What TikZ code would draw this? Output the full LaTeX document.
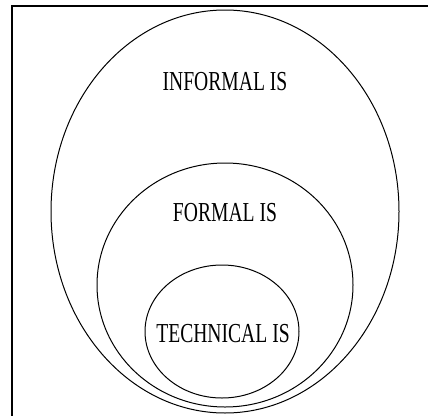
\documentclass[tikz,border=0pt]{standalone}
\usepackage{fontspec}
\setmainfont{Liberation Serif}
\usetikzlibrary{shapes.geometric}
\tikzset{
  setell/.style={draw, ellipse, line width=1pt, inner sep=0pt},
  setlabel/.style={anchor=base, inner sep=0pt, font=\fontsize{19.6pt}{20pt}\selectfont},
  framel/.style={line width=2pt}
}
\newcommand{\tallt}[1]{\scalebox{1}[1.4]{#1}}
\begin{document}
\begin{tikzpicture}[x=1pt,y=-1pt]
\useasboundingbox (0,0) rectangle (428,415);
\coordinate (fbl) at (11.5,416);
\coordinate (ftl) at (11.5,5.5);
\coordinate (ftr) at (429,5.5);
\draw[framel] (fbl) -- (ftl) -- (ftr);
\node[setell, minimum width=348pt, minimum height=403pt] (informal) at (225,211.5) {};
\node[setell, minimum width=256pt, minimum height=244pt] (formal) at (225,285) {};
\node[setell, minimum width=154pt, minimum height=133pt] (technical) at (222,331.5) {};
\node[setlabel] (tinformal) at (225,90) {\tallt{INFORMAL IS}};
\node[setlabel] (tformal) at (225,221) {\tallt{FORMAL IS}};
\node[setlabel] (ttechnical) at (223,342) {\tallt{TECHNICAL IS}};
\end{tikzpicture}
\end{document}
